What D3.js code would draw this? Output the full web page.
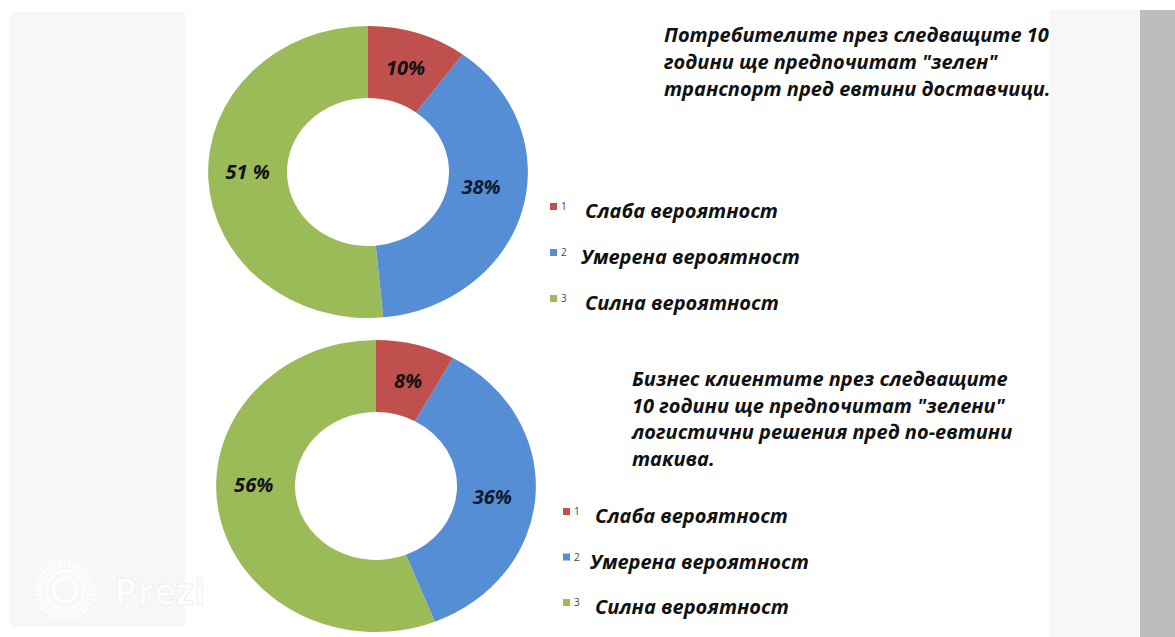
<!DOCTYPE html>
<html lang="bg">
<head>
<meta charset="utf-8">
<script src="https://cdn.jsdelivr.net/npm/d3@7"></script>
<style>
  html, body { margin: 0; padding: 0; background: #fff; }
  svg { display: block; }
  text { font-family: "Open Sans", "Noto Sans", sans-serif; }
</style>
</head>
<body>
<div id="viz"></div>
<script>
// Данни
const categories = ['Слаба вероятност', 'Умерена вероятност', 'Силна вероятност'];
const categoryNumbers = ['1', '2', '3'];
const consumerValues = [10, 38, 51];
const consumerLabels = ['10%', '38%', '51 %'];
const businessValues = [8, 36, 56];
const businessLabels = ['8%', '36%', '56%'];
const consumerTitle = [
  'Потребителите през следващите 10',
  'години ще предпочитат "зелен"',
  'транспорт пред евтини доставчици.'
];
const businessTitle = [
  'Бизнес клиентите през следващите',
  '10 години ще предпочитат "зелени"',
  'логистични решения пред по-евтини',
  'такива.'
];
const colors = ['#c0504d', '#558ed5', '#9bbb59'];

const config = { width: 1175, height: 637 };

const svg = d3.select('#viz').append('svg')
  .attr('width', config.width)
  .attr('height', config.height);

// Фон (Prezi рамка)
svg.append('rect').attr('width', config.width).attr('height', config.height).attr('fill', '#fff');
svg.append('rect').attr('x', 10).attr('y', 12).attr('width', 175).attr('height', 615).attr('fill', '#f7f7f7');
svg.append('rect').attr('x', 1050).attr('y', 10).attr('width', 90).attr('height', 627).attr('fill', '#f7f7f7');
svg.append('rect').attr('x', 1140).attr('y', 10).attr('width', 35).attr('height', 627).attr('fill', '#bdbdbd');

// Prezi воден знак
const logo = svg.append('g').attr('transform', 'translate(65,590)');
d3.range(36).forEach(i => {
  const a = i * 10 * Math.PI / 180;
  logo.append('line')
    .attr('x1', Math.cos(a) * 22).attr('y1', Math.sin(a) * 22)
    .attr('x2', Math.cos(a) * 31).attr('y2', Math.sin(a) * 31)
    .attr('stroke', '#fdfdfd').attr('stroke-width', 2.5);
});
logo.append('circle').attr('r', 19).attr('fill', 'none').attr('stroke', '#fdfdfd').attr('stroke-width', 3);
logo.append('circle').attr('r', 12).attr('fill', 'none').attr('stroke', '#fdfdfd').attr('stroke-width', 3);
svg.append('text')
  .text('Prezi')
  .attr('x', 114).attr('y', 605)
  .attr('font-size', 37).attr('font-weight', 700)
  .attr('fill', '#fdfdfd')
  .attr('stroke', '#efefef').attr('stroke-width', 0.8);

const outerR = 146;
const innerR = 74;
const stretchX = 1.095;

function drawDonut(values, labels, center, nudges) {
  const pie = d3.pie().sort(null).value(d => d)
    .startAngle(0).endAngle(2 * Math.PI);
  const arcs = pie(values);
  const arc = d3.arc().innerRadius(innerR).outerRadius(outerR);

  const g = svg.append('g')
    .attr('transform', `translate(${center[0]},${center[1]})`);
  g.append('g')
    .attr('transform', `scale(${stretchX},1)`)
    .selectAll('path')
    .data(arcs)
    .enter().append('path')
    .attr('d', arc)
    .attr('fill', (d, i) => colors[i]);

  g.selectAll('.pct')
    .data(arcs)
    .enter().append('text')
    .attr('class', 'pct')
    .attr('x', (d, i) => arc.centroid(d)[0] * stretchX + nudges[i][0])
    .attr('y', (d, i) => arc.centroid(d)[1] + nudges[i][1])
    .attr('text-anchor', 'middle')
    .attr('dominant-baseline', 'central')
    .attr('font-size', 20)
    .attr('font-weight', 700)
    .attr('font-style', 'italic')
    .attr('fill', (d, i) => i === 1 ? '#0e1a2e' : '#111')
    .text((d, i) => labels[i]);
}

function drawTitle(lines, x, y0, step) {
  svg.append('g').selectAll('text')
    .data(lines)
    .enter().append('text')
    .attr('x', x)
    .attr('y', (d, i) => y0 + i * step)
    .attr('font-size', 20)
    .attr('font-weight', 700)
    .attr('font-style', 'italic')
    .attr('fill', '#111')
    .text(d => d);
}

function drawLegend(x, y0, step, textX) {
  const legend = svg.append('g').attr('class', 'legend');
  const cell = legend.selectAll('.cell')
    .data(categories)
    .enter().append('g')
    .attr('class', 'cell')
    .attr('transform', (d, i) => `translate(${x},${y0 + i * step})`);
  cell.append('rect')
    .attr('x', 0).attr('y', -15)
    .attr('width', 7).attr('height', 7)
    .attr('fill', (d, i) => colors[i]);
  cell.append('text')
    .attr('x', 11).attr('y', -8)
    .attr('font-size', 10)
    .attr('fill', '#444')
    .text((d, i) => categoryNumbers[i]);
  cell.append('text')
    .attr('x', (d, i) => textX[i])
    .attr('y', 0)
    .attr('font-size', 20)
    .attr('font-weight', 700)
    .attr('font-style', 'italic')
    .attr('fill', '#111')
    .text(d => d);
}

drawDonut(consumerValues, consumerLabels, [368, 172], [[0, 0], [-3, -15], [0, -6]]);
drawDonut(businessValues, businessLabels, [376, 486], [[2, 1], [-4, 4], [-4, -22]]);

drawTitle(consumerTitle, 664, 42, 27);
drawTitle(businessTitle, 632, 386, 26.5);

drawLegend(550, 218, 46, [35, 31, 35]);
drawLegend(563, 523, 45.5, [32, 27, 32]);
</script>
</body>
</html>
